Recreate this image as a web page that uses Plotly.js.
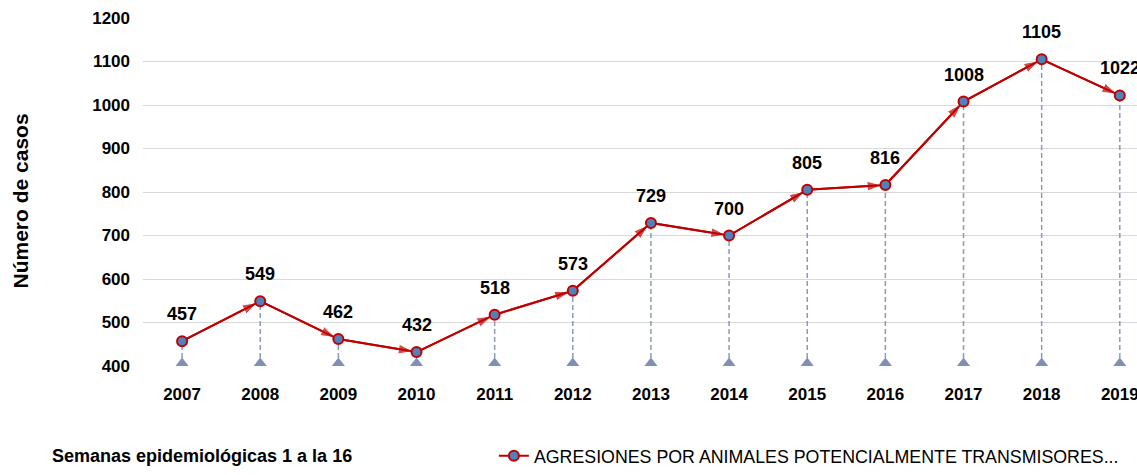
<!DOCTYPE html>
<html>
<head>
<meta charset="utf-8">
<script src="https://cdn.plot.ly/plotly-3.0.1.min.js"></script>
<style>
  html, body { margin: 0; padding: 0; background: #fff; }
  #chart { width: 1137px; height: 475px; }
</style>
</head>
<body>
<div id="chart"></div>
<script>
  // ====== Data ======
  var years = ['2007', '2008', '2009', '2010', '2011', '2012', '2013',
               '2014', '2015', '2016', '2017', '2018', '2019'];
  var casos = [457, 549, 462, 432, 518, 573, 729, 700, 805, 816, 1008, 1105, 1022];
  var serieNombre = 'AGRESIONES POR ANIMALES POTENCIALMENTE TRANSMISORES...';
  var nota = 'Semanas epidemiológicas 1 a la 16';
  var yBase = 400;

  var font = 'Liberation Sans, Arial, sans-serif';
  var red = '#c00000';
  var dropColor = '#8a9bbb';

  var idx = years.map(function (_, i) { return i; });

  // dashed drop lines from each point to the base
  var dx = [], dy = [];
  idx.forEach(function (i) {
    dx.push(i, i, null);
    dy.push(yBase, casos[i], null);
  });
  var drops = {
    x: dx, y: dy, type: 'scatter', mode: 'lines',
    line: { color: dropColor, width: 1.5, dash: '5px,3px' },
    hoverinfo: 'skip', showlegend: false
  };

  var bases = {
    x: idx, y: years.map(function () { return yBase; }),
    type: 'scatter', mode: 'markers', cliponaxis: true,
    marker: { symbol: 'triangle-up', size: 17, color: '#7f90b3' },
    hoverinfo: 'skip', showlegend: false
  };

  var arrows = {
    x: idx, y: casos, type: 'scatter', mode: 'lines+markers',
    line: { color: red, width: 2 },
    marker: {
      symbol: idx.map(function (i) { return i === 0 ? 'circle' : 'arrow'; }),
      size: idx.map(function (i) { return i === 0 ? 0 : 16; }),
      angleref: 'previous', standoff: 3, color: red
    },
    cliponaxis: false, hoverinfo: 'skip', showlegend: false
  };

  var puntos = {
    x: idx, y: casos, type: 'scatter', mode: 'lines+markers',
    name: serieNombre,
    line: { color: red, width: 2 },
    marker: { symbol: 'circle', size: 10, color: '#4f81bd', line: { color: red, width: 2 } },
    cliponaxis: false,
    hovertemplate: '%{text}: %{y}<extra></extra>', text: years
  };

  var labels = idx.map(function (i) {
    return {
      x: i, y: casos[i], xref: 'x', yref: 'y',
      text: String(casos[i]), showarrow: false,
      yshift: 27, font: { family: font, size: 18, color: '#000', weight: 'bold' }
    };
  });
  labels.push({
    xref: 'paper', yref: 'paper', x: 0, y: 0.5, xanchor: 'center', yanchor: 'middle',
    xshift: -123.5, yshift: -9, textangle: -90, showarrow: false,
    text: '<b>Número de casos</b>', font: { family: font, size: 21, color: '#000' }
  });
  labels.push({
    xref: 'paper', yref: 'paper', x: 0, y: 0, xanchor: 'left', yanchor: 'middle',
    xshift: -93, yshift: -90, showarrow: false,
    text: '<b>' + nota + '</b>', font: { family: font, size: 18, color: '#000' }
  });

  var layout = {
    width: 1137, height: 475,
    margin: { l: 143, r: 0, t: 18, b: 109 },
    paper_bgcolor: '#fff', plot_bgcolor: '#fff',
    font: { family: font, color: '#000' },
    xaxis: {
      range: [-0.5, 12.22], tickvals: idx, ticktext: years,
      showgrid: false, zeroline: false, showline: false, ticks: '',
      ticklabelstandoff: 16, ticklabeloverflow: 'allow',
      tickfont: { family: font, size: 17, color: '#000', weight: 'bold' }
    },
    yaxis: {
      range: [yBase, 1200], dtick: 100, tick0: 0,
      showgrid: true, gridcolor: '#d9d9d9', gridwidth: 1,
      zeroline: false, showline: false, ticks: '',
      ticklabelstandoff: 12,
      tickfont: { family: font, size: 17, color: '#000', weight: 'bold' }
    },
    showlegend: true,
    legend: {
      orientation: 'h', x: 0.353, xanchor: 'left', y: -0.259, yanchor: 'middle',
      font: { family: font, size: 17.8, color: '#000' },
      bgcolor: 'rgba(0,0,0,0)'
    },
    annotations: labels
  };

  Plotly.newPlot('chart', [drops, bases, arrows, puntos], layout, { displayModeBar: false, staticPlot: true });
</script>
</body>
</html>
